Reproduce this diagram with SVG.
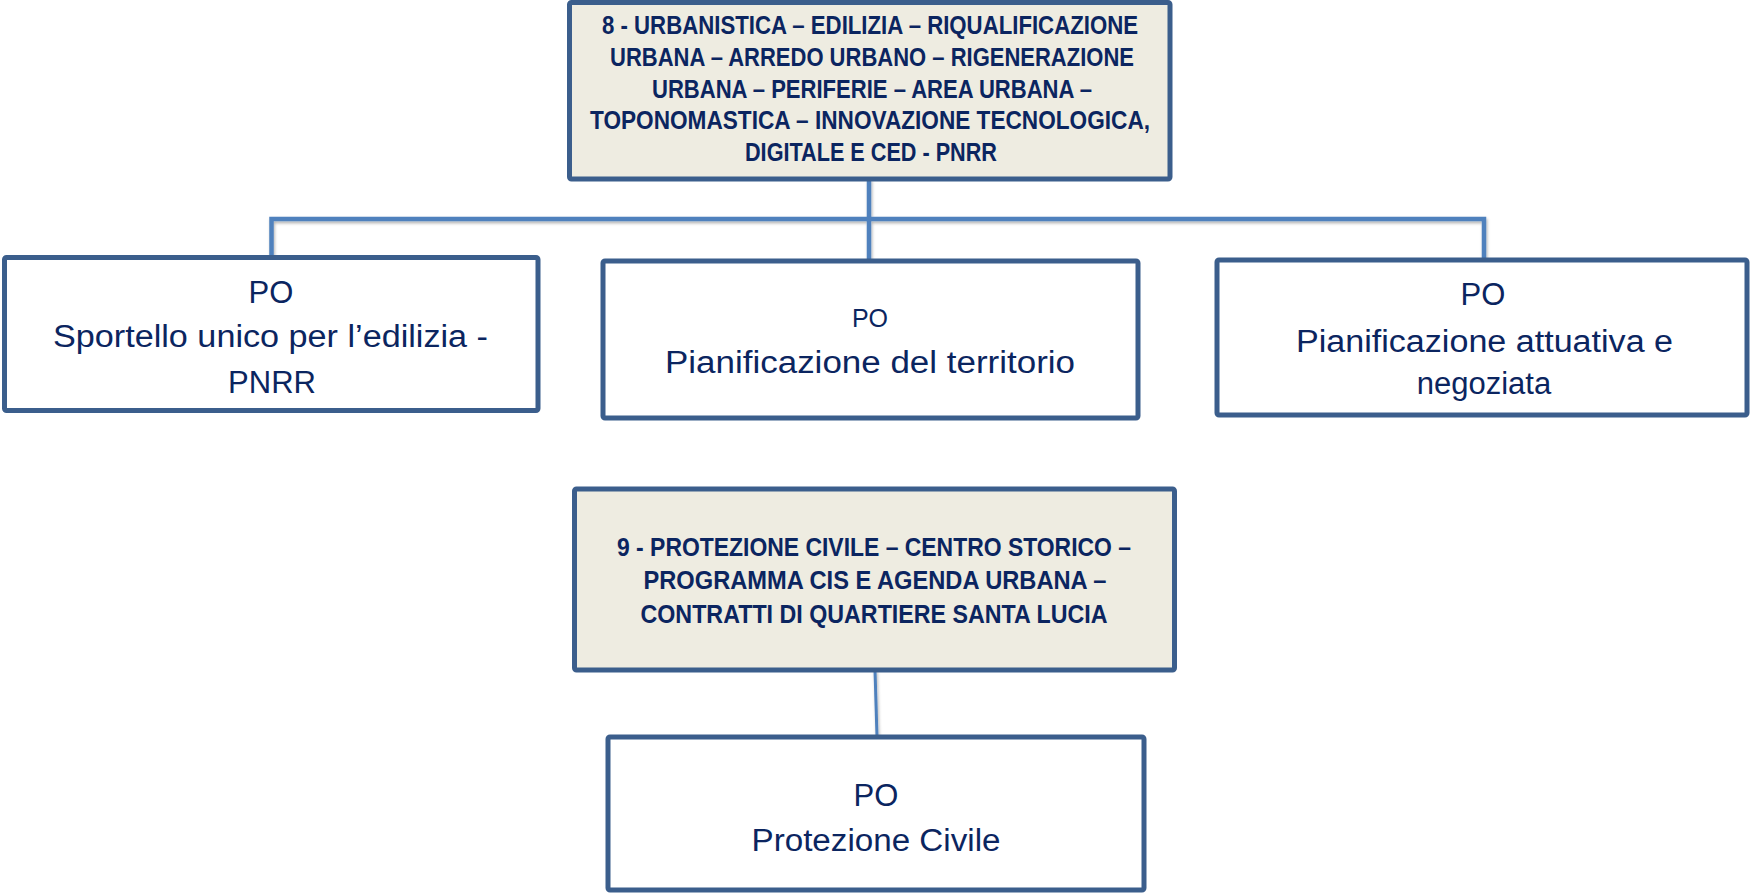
<svg xmlns="http://www.w3.org/2000/svg" width="1751" height="894" viewBox="0 0 1751 894">
<defs>
<filter id="sh" x="-20%" y="-20%" width="140%" height="140%">
<feDropShadow dx="1" dy="2" stdDeviation="1.5" flood-color="#000" flood-opacity="0.3"/>
</filter>
</defs>
<style>
.hdr{fill:#EEECE1;stroke:#3B5E8C;stroke-width:5}
.box{fill:#FFFFFF;stroke:#3B5E8C;stroke-width:5}
.con{fill:none;stroke:#4F81BD;stroke-width:4.5;stroke-linejoin:miter}
.tb{font-family:"Liberation Sans",Arial,sans-serif;font-weight:bold;font-size:25px;fill:#0B2560;text-anchor:middle}
.t{font-family:"Liberation Sans",Arial,sans-serif;font-size:31px;fill:#0B2560;text-anchor:middle}
.ts{font-family:"Liberation Sans",Arial,sans-serif;font-size:25px;fill:#0B2560;text-anchor:middle}
</style>
<g id="connectors" filter="url(#sh)">
<path class="con" d="M869,179 V261"/>
<path class="con" d="M271.5,257 V219 H1484 V260"/>
<path class="con" d="M875,670 L877,737" style="stroke-width:3"/>
</g>
<g id="n8">
<rect class="hdr" x="569.5" y="2.5" width="600.5" height="176.5" rx="2"/>
<text class="tb" x="870" y="34" textLength="536" lengthAdjust="spacingAndGlyphs">8 - URBANISTICA – EDILIZIA – RIQUALIFICAZIONE</text>
<text class="tb" x="872" y="66" textLength="524" lengthAdjust="spacingAndGlyphs">URBANA – ARREDO URBANO – RIGENERAZIONE</text>
<text class="tb" x="872" y="98" textLength="440" lengthAdjust="spacingAndGlyphs">URBANA – PERIFERIE – AREA URBANA –</text>
<text class="tb" x="870" y="129" textLength="560" lengthAdjust="spacingAndGlyphs">TOPONOMASTICA – INNOVAZIONE TECNOLOGICA,</text>
<text class="tb" x="871" y="161" textLength="252" lengthAdjust="spacingAndGlyphs">DIGITALE E CED - PNRR</text>
</g>
<g id="po-sue">
<rect class="box" x="4.5" y="257.5" width="533.5" height="153" rx="2"/>
<text class="t" x="271" y="303">PO</text>
<text class="t" x="270.5" y="347" textLength="435" lengthAdjust="spacingAndGlyphs">Sportello unico per l’edilizia -</text>
<text class="t" x="272" y="393">PNRR</text>
</g>
<g id="po-pt">
<rect class="box" x="603" y="261" width="535" height="157" rx="2"/>
<text class="ts" x="870" y="327">PO</text>
<text class="t" x="870" y="373" textLength="410" lengthAdjust="spacingAndGlyphs">Pianificazione del territorio</text>
</g>
<g id="po-pan">
<rect class="box" x="1217" y="260" width="530" height="155" rx="2"/>
<text class="t" x="1483" y="305">PO</text>
<text class="t" x="1484.5" y="352" textLength="377" lengthAdjust="spacingAndGlyphs">Pianificazione attuativa e</text>
<text class="t" x="1484" y="394">negoziata</text>
</g>
<g id="n9">
<rect class="hdr" x="574.5" y="489" width="600" height="181" rx="2"/>
<text class="tb" x="874" y="556" textLength="514" lengthAdjust="spacingAndGlyphs">9 - PROTEZIONE CIVILE – CENTRO STORICO –</text>
<text class="tb" x="875" y="589" textLength="463" lengthAdjust="spacingAndGlyphs">PROGRAMMA CIS E AGENDA URBANA –</text>
<text class="tb" x="874" y="623" textLength="467" lengthAdjust="spacingAndGlyphs">CONTRATTI DI QUARTIERE SANTA LUCIA</text>
</g>
<g id="po-pc">
<rect class="box" x="608" y="737" width="536" height="153" rx="2"/>
<text class="t" x="876" y="806">PO</text>
<text class="t" x="876" y="851" textLength="249" lengthAdjust="spacingAndGlyphs">Protezione Civile</text>
</g>
</svg>
